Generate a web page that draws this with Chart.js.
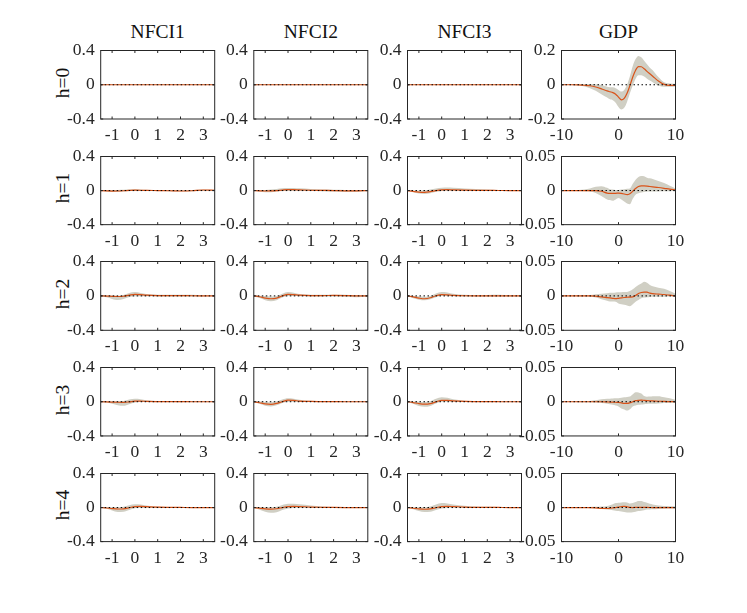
<!DOCTYPE html>
<html><head><meta charset="utf-8">
<script src="https://cdn.jsdelivr.net/npm/chart.js@4.4.1/dist/chart.umd.min.js"></script>
<style>
html,body{margin:0;padding:0;background:#fff;}
body{width:747px;height:613px;position:relative;overflow:hidden;font-family:'Liberation Serif','Times New Roman',serif;color:#111}
canvas{position:absolute}
.t{position:absolute;font-size:19.5px;white-space:nowrap;transform:translate(-50%,0);line-height:20px}
.r{position:absolute;font-size:19.5px;white-space:nowrap;line-height:20px;transform:translate(-50%,-50%) rotate(-90deg)}
</style></head><body>
<script>
// ---------------- data ----------------
const COLUMNS = ['NFCI1','NFCI2','NFCI3','GDP'];
const ROWS = ['h=0','h=1','h=2','h=3','h=4'];

const NFCI_X = [-1.5,-1.25,-1,-0.75,-0.5,-0.25,0,0.25,0.5,1,1.5,2,2.5,3,3.5];
const NFCI_XTICKS = [-1,0,1,2,3];
const NFCI_YTICKS = [-0.4,0,0.4];

const GDP_X = [-10,-9,-8,-7,-6,-5,-4,-3,-2,-1.5,-1,-0.5,0,0.5,1,1.5,2,2.5,3,3.5,4,4.5,5,5.5,6,7,8,9,10];
const GDP_XTICKS = [-10,0,10];
const GDP_YTICKS_H0 = [-0.2,0,0.2];
const GDP_YTICKS = [-0.05,0,0.05];

// h=0, NFCI (flat)
const H0_NFCI_MID = [0,0,0,0,0,0,0,0,0,0,0,0,0,0,0];
const H0_NFCI_LO  = [-0.002,-0.002,-0.002,-0.002,-0.002,-0.002,-0.002,-0.002,-0.002,-0.002,-0.002,-0.002,-0.002,-0.002,-0.002];
const H0_NFCI_HI  = [0.002,0.002,0.002,0.002,0.002,0.002,0.002,0.002,0.002,0.002,0.002,0.002,0.002,0.002,0.002];

// h=1
const H1_NFCI1_MID = [0,-0.003,-0.006,-0.005,-0.002,0.002,0.005,0.004,0.002,0,-0.002,-0.005,-0.002,0.007,0.004];
const H1_NFCI1_LO  = [-0.002,-0.01,-0.018,-0.018,-0.012,-0.006,-0.004,-0.005,-0.006,-0.006,-0.008,-0.012,-0.008,-0.002,-0.002];
const H1_NFCI1_HI  = [0.002,0.004,0.006,0.008,0.01,0.012,0.015,0.013,0.01,0.006,0.005,0.002,0.006,0.014,0.01];
const H1_NFCI2_MID = [0,-0.003,-0.005,-0.004,0,0.006,0.01,0.01,0.008,0.004,0.002,0,-0.003,-0.003,0];
const H1_NFCI2_LO  = [-0.002,-0.012,-0.02,-0.02,-0.012,-0.004,-0.002,-0.002,-0.004,-0.006,-0.008,-0.012,-0.018,-0.016,-0.006];
const H1_NFCI2_HI  = [0.002,0.004,0.008,0.012,0.018,0.026,0.03,0.03,0.026,0.018,0.012,0.01,0.008,0.008,0.004];
const H1_NFCI3_MID = [0,-0.01,-0.018,-0.02,-0.012,0,0.008,0.01,0.008,0.005,0.003,0.002,0.001,0,0];
const H1_NFCI3_LO  = [-0.002,-0.02,-0.035,-0.04,-0.032,-0.015,-0.004,-0.002,-0.003,-0.005,-0.006,-0.006,-0.005,-0.004,-0.002];
const H1_NFCI3_HI  = [0.002,0.002,0,0.004,0.012,0.025,0.033,0.035,0.032,0.025,0.018,0.012,0.008,0.005,0.002];

// h=2
const H2_NFCI1_MID = [0,-0.002,-0.005,-0.007,-0.004,0.008,0.017,0.014,0.008,0.004,0.004,0.004,0.002,0.001,0];
const H2_NFCI1_LO  = [-0.003,-0.015,-0.035,-0.048,-0.035,-0.012,-0.004,-0.004,-0.005,-0.006,-0.007,-0.008,-0.008,-0.006,-0.004];
const H2_NFCI1_HI  = [0.003,0.006,0.005,0,0.01,0.035,0.045,0.035,0.022,0.014,0.013,0.014,0.012,0.008,0.004];
const H2_NFCI2_MID = [0,-0.01,-0.025,-0.033,-0.025,0,0.018,0.014,0.008,0.004,0.004,0.005,0.004,0,0];
const H2_NFCI2_LO  = [-0.003,-0.025,-0.05,-0.063,-0.05,-0.02,-0.002,-0.002,-0.004,-0.006,-0.006,-0.006,-0.01,-0.016,-0.006];
const H2_NFCI2_HI  = [0.003,0.003,-0.002,-0.006,0,0.025,0.045,0.038,0.022,0.014,0.012,0.014,0.014,0.008,0.004];
const H2_NFCI3_MID = [0,-0.012,-0.025,-0.033,-0.022,0.002,0.015,0.013,0.007,0.002,0.001,0.001,0.001,0,0];
const H2_NFCI3_LO  = [-0.003,-0.028,-0.045,-0.052,-0.04,-0.015,-0.002,-0.003,-0.004,-0.006,-0.006,-0.007,-0.008,-0.008,-0.004];
const H2_NFCI3_HI  = [0.003,0.002,-0.004,-0.01,0,0.028,0.045,0.04,0.025,0.012,0.009,0.01,0.012,0.008,0.004];

// h=3
const H3_NFCI1_MID = [0,-0.002,-0.004,-0.006,-0.007,-0.002,0.006,0.007,0.004,0.002,0.001,0.001,0,0,0];
const H3_NFCI1_LO  = [-0.002,-0.01,-0.025,-0.042,-0.048,-0.03,-0.008,-0.004,-0.004,-0.004,-0.004,-0.005,-0.004,-0.003,-0.002];
const H3_NFCI1_HI  = [0.002,0.004,0.004,0.004,0.008,0.025,0.035,0.03,0.018,0.008,0.006,0.006,0.005,0.004,0.002];
const H3_NFCI2_MID = [0,-0.012,-0.025,-0.03,-0.02,0,0.018,0.015,0.008,0.003,0.002,0.001,0,0,0];
const H3_NFCI2_LO  = [-0.002,-0.025,-0.048,-0.055,-0.042,-0.015,0,0,-0.002,-0.004,-0.004,-0.004,-0.004,-0.003,-0.002];
const H3_NFCI2_HI  = [0.002,0.002,-0.002,-0.005,0.002,0.025,0.04,0.035,0.022,0.01,0.006,0.005,0.004,0.004,0.002];
const H3_NFCI3_MID = [0,-0.01,-0.022,-0.028,-0.022,-0.002,0.016,0.016,0.01,0.004,0.002,0.001,0,0,0];
const H3_NFCI3_LO  = [-0.002,-0.025,-0.05,-0.06,-0.05,-0.02,0,0,-0.002,-0.004,-0.004,-0.004,-0.004,-0.003,-0.002];
const H3_NFCI3_HI  = [0.002,0.003,0,-0.004,0.005,0.035,0.052,0.045,0.028,0.012,0.008,0.006,0.004,0.004,0.002];

// h=4
const H4_NFCI1_MID = [0,-0.005,-0.012,-0.017,-0.015,-0.002,0.012,0.014,0.01,0.004,0.002,0.001,0,0,0];
const H4_NFCI1_LO  = [-0.002,-0.015,-0.035,-0.052,-0.05,-0.03,-0.008,-0.002,-0.002,-0.004,-0.004,-0.004,-0.003,-0.003,-0.002];
const H4_NFCI1_HI  = [0.002,0.004,0.004,0.004,0.01,0.028,0.04,0.037,0.025,0.012,0.007,0.005,0.004,0.003,0.002];
const H4_NFCI2_MID = [0,-0.008,-0.015,-0.018,-0.014,0,0.012,0.014,0.012,0.006,0.003,0.001,0,0,0];
const H4_NFCI2_LO  = [-0.002,-0.025,-0.05,-0.062,-0.055,-0.03,-0.01,-0.004,-0.002,-0.003,-0.004,-0.004,-0.003,-0.003,-0.002];
const H4_NFCI2_HI  = [0.002,0.004,0.004,0.004,0.01,0.03,0.045,0.045,0.038,0.025,0.012,0.006,0.004,0.003,0.002];
const H4_NFCI3_MID = [0,-0.008,-0.016,-0.02,-0.016,-0.002,0.012,0.014,0.012,0.006,0.003,0.002,0.001,0,0];
const H4_NFCI3_LO  = [-0.002,-0.02,-0.04,-0.052,-0.05,-0.03,-0.01,-0.004,-0.003,-0.004,-0.004,-0.005,-0.005,-0.004,-0.002];
const H4_NFCI3_HI  = [0.002,0.004,0.004,0.004,0.012,0.035,0.052,0.048,0.035,0.02,0.012,0.008,0.006,0.004,0.002];

// GDP
const H0_GDP_MID = [0,0,0,-0.001,-0.003,-0.006,-0.013,-0.024,-0.036,-0.041,-0.046,-0.055,-0.072,-0.088,-0.08,-0.05,-0.005,0.045,0.085,0.106,0.105,0.093,0.078,0.064,0.05,0.022,0.002,-0.004,-0.004];
const H0_GDP_LO  = [-0.002,-0.002,-0.003,-0.005,-0.01,-0.02,-0.035,-0.055,-0.075,-0.085,-0.09,-0.105,-0.13,-0.145,-0.135,-0.1,-0.05,-0.005,0.035,0.055,0.055,0.048,0.035,0.025,0.015,-0.005,-0.012,-0.012,-0.01];
const H0_GDP_HI  = [0.002,0.002,0.002,0.002,0.003,0.004,0.003,-0.002,-0.012,-0.015,-0.015,-0.02,-0.03,-0.04,-0.03,0,0.05,0.11,0.15,0.168,0.16,0.14,0.12,0.1,0.085,0.045,0.015,0.008,0.006];

const H1_GDP_MID = [0,0,0,0,0,0,0,-0.001,-0.0037,-0.004,-0.004,-0.004,-0.0037,-0.004,-0.005,-0.006,-0.0045,-0.001,0.003,0.006,0.007,0.0068,0.0065,0.006,0.0055,0.0045,0.0033,0.002,0.001];
const H1_GDP_LO  = [-0.0005,-0.0005,-0.0005,-0.0008,-0.001,-0.0015,-0.0035,-0.008,-0.013,-0.014,-0.015,-0.013,-0.011,-0.013,-0.016,-0.019,-0.02,-0.012,-0.006,-0.004,-0.003,-0.002,-0.0015,-0.0014,-0.0014,-0.0012,-0.001,-0.001,-0.0008];
const H1_GDP_HI  = [0.0005,0.0005,0.0005,0.0008,0.0015,0.003,0.0055,0.0065,0.004,0.002,0.0015,0.001,0.001,0.0015,0.002,0.0025,0.003,0.01,0.016,0.02,0.0215,0.021,0.019,0.018,0.017,0.014,0.011,0.007,0.003];

const H2_GDP_MID = [0,0,0,0,0,0,-0.0003,-0.0015,-0.0025,-0.003,-0.0035,-0.004,-0.0035,-0.003,-0.0023,-0.002,-0.0017,-0.0014,0.0005,0.0035,0.005,0.0055,0.0055,0.004,0.0033,0.0026,0.002,0.001,0];
const H2_GDP_LO  = [-0.0005,-0.0005,-0.0006,-0.0007,-0.0008,-0.0012,-0.0025,-0.005,-0.0072,-0.0083,-0.0083,-0.0085,-0.011,-0.012,-0.013,-0.014,-0.015,-0.012,-0.0085,-0.006,-0.0035,-0.0025,-0.002,-0.0015,-0.0014,-0.0013,-0.0012,-0.001,-0.001];
const H2_GDP_HI  = [0.0005,0.0005,0.0006,0.0007,0.0008,0.0012,0.0025,0.0033,0.004,0.0045,0.0046,0.005,0.0052,0.0054,0.0055,0.0058,0.007,0.0095,0.013,0.016,0.018,0.0205,0.019,0.016,0.014,0.012,0.0105,0.007,0.003];

const H3_GDP_MID = [0,0,0,0,0,0,0,0,-0.0003,-0.0005,-0.0007,-0.0008,-0.001,-0.0017,-0.0023,-0.0023,-0.0015,0,0.0015,0.0021,0.0023,0.002,0.0017,0.0014,0.0011,0.0007,0.0004,0.0002,0];
const H3_GDP_LO  = [-0.0004,-0.0004,-0.0005,-0.0006,-0.0007,-0.0009,-0.0013,-0.002,-0.003,-0.0038,-0.0046,-0.0055,-0.0068,-0.01,-0.0115,-0.013,-0.011,-0.0068,-0.0055,-0.0045,-0.004,-0.0036,-0.0033,-0.003,-0.003,-0.0025,-0.002,-0.0016,-0.0014];
const H3_GDP_HI  = [0.0004,0.0004,0.0005,0.0006,0.0008,0.0011,0.002,0.0035,0.0042,0.0045,0.0048,0.005,0.0052,0.0058,0.0065,0.007,0.0075,0.011,0.014,0.0135,0.012,0.0085,0.0073,0.0075,0.008,0.008,0.0065,0.005,0.003];

const H4_GDP_MID = [0,0,0,0,0,0,-0.0004,-0.0012,-0.0014,-0.001,-0.0005,0,0.0005,0.0015,0.0018,0.0012,0.0002,0,0.0002,0.0004,0.0004,0.0003,0.0002,0.0001,0,0,0,0,0];
const H4_GDP_LO  = [-0.0004,-0.0004,-0.0005,-0.0006,-0.0008,-0.001,-0.0014,-0.002,-0.0028,-0.0033,-0.004,-0.0046,-0.005,-0.0058,-0.0066,-0.0073,-0.0072,-0.0069,-0.006,-0.005,-0.0046,-0.0038,-0.003,-0.0027,-0.0025,-0.002,-0.0017,-0.0015,-0.0014];
const H4_GDP_HI  = [0.0004,0.0004,0.0005,0.0006,0.0007,0.0008,0.001,0.0015,0.0024,0.0035,0.005,0.0065,0.007,0.0075,0.0078,0.0075,0.006,0.0065,0.008,0.0095,0.0095,0.008,0.007,0.0055,0.0045,0.003,0.0022,0.002,0.0018];

// ---------------- panel table built from the arrays ----------------
const PANELS = [
  [[H0_NFCI_MID,H0_NFCI_LO,H0_NFCI_HI],[H0_NFCI_MID,H0_NFCI_LO,H0_NFCI_HI],[H0_NFCI_MID,H0_NFCI_LO,H0_NFCI_HI],[H0_GDP_MID,H0_GDP_LO,H0_GDP_HI]],
  [[H1_NFCI1_MID,H1_NFCI1_LO,H1_NFCI1_HI],[H1_NFCI2_MID,H1_NFCI2_LO,H1_NFCI2_HI],[H1_NFCI3_MID,H1_NFCI3_LO,H1_NFCI3_HI],[H1_GDP_MID,H1_GDP_LO,H1_GDP_HI]],
  [[H2_NFCI1_MID,H2_NFCI1_LO,H2_NFCI1_HI],[H2_NFCI2_MID,H2_NFCI2_LO,H2_NFCI2_HI],[H2_NFCI3_MID,H2_NFCI3_LO,H2_NFCI3_HI],[H2_GDP_MID,H2_GDP_LO,H2_GDP_HI]],
  [[H3_NFCI1_MID,H3_NFCI1_LO,H3_NFCI1_HI],[H3_NFCI2_MID,H3_NFCI2_LO,H3_NFCI2_HI],[H3_NFCI3_MID,H3_NFCI3_LO,H3_NFCI3_HI],[H3_GDP_MID,H3_GDP_LO,H3_GDP_HI]],
  [[H4_NFCI1_MID,H4_NFCI1_LO,H4_NFCI1_HI],[H4_NFCI2_MID,H4_NFCI2_LO,H4_NFCI2_HI],[H4_NFCI3_MID,H4_NFCI3_LO,H4_NFCI3_HI],[H4_GDP_MID,H4_GDP_LO,H4_GDP_HI]]
];

// ---------------- layout / style ----------------
const COL_L = [100.7, 253.8, 407.5, 561.5];
const ROW_T = [46.5, 152.15, 257.8, 363.45, 469.1];
const BOX_W = 114, BOX_H = 72.5;
const RED = '#D95319', BAND = 'rgb(208,207,196)', AXC = '#262626';
const FONT = "'Liberation Serif','Times New Roman',serif";
const TICK_SIZE = 17.5;

const boxPlugin = {
  id: 'box',
  afterDatasetsDraw(chart) {
    const {ctx, chartArea: a, scales: {x, y}} = chart;
    ctx.save();
    ctx.strokeStyle = AXC; ctx.lineWidth = 1;
    ctx.strokeRect(a.left, a.top, a.right - a.left, a.bottom - a.top);
    const L = 2.5;
    ctx.beginPath();
    x.ticks.forEach(t => { const p = x.getPixelForValue(t.value);
      ctx.moveTo(p, a.bottom); ctx.lineTo(p, a.bottom - L);
      ctx.moveTo(p, a.top); ctx.lineTo(p, a.top + L); });
    y.ticks.forEach(t => { const p = y.getPixelForValue(t.value);
      ctx.moveTo(a.left, p); ctx.lineTo(a.left + L, p);
      ctx.moveTo(a.right, p); ctx.lineTo(a.right - L, p); });
    ctx.stroke();
    ctx.restore();
  }
};

function pts(xs, ys) { return xs.map((v, i) => ({x: v, y: ys[i]})); }

function addText(cls, txt, left, top) {
  const d = document.createElement('div');
  d.className = cls; d.textContent = txt;
  d.style.left = left + 'px'; d.style.top = top + 'px';
  document.body.appendChild(d);
}

COLUMNS.forEach((name, c) => addText('t', name, COL_L[c] + BOX_W / 2, 22));
ROWS.forEach((name, r) => addText('r', name, 63, ROW_T[r] + BOX_H / 2));

for (let r = 0; r < ROWS.length; r++) {
  for (let c = 0; c < COLUMNS.length; c++) {
    const isGDP = c === 3;
    const xs = isGDP ? GDP_X : NFCI_X;
    const xt = isGDP ? GDP_XTICKS : NFCI_XTICKS;
    const yt = isGDP ? (r === 0 ? GDP_YTICKS_H0 : GDP_YTICKS) : NFCI_YTICKS;
    const [mid, lo, hi] = PANELS[r][c];
    const xmin = xs[0], xmax = xs[xs.length - 1];

    const cl = Math.floor(COL_L[c]) - 56;
    const yAxisW = COL_L[c] - cl;
    const ct = Math.floor(ROW_T[r]) - 12;
    const padTop = ROW_T[r] - ct;
    const W = Math.ceil(yAxisW + BOX_W) + 16;
    const H = Math.ceil(padTop + BOX_H) + 30;
    const padRight = W - yAxisW - BOX_W;
    const xAxisH = H - padTop - BOX_H;

    const cv = document.createElement('canvas');
    cv.width = W; cv.height = H;
    cv.style.left = cl + 'px'; cv.style.top = ct + 'px';
    cv.style.width = W + 'px'; cv.style.height = H + 'px';
    document.body.appendChild(cv);

    new Chart(cv, {
      type: 'line',
      data: {
        datasets: [
          {data: pts(xs, lo), borderWidth: 0, borderColor: 'rgba(0,0,0,0)', pointRadius: 0, fill: false, order: 3, cubicInterpolationMode: 'monotone'},
          {data: pts(xs, hi), borderWidth: 0, borderColor: 'rgba(0,0,0,0)', pointRadius: 0, fill: '-1', backgroundColor: BAND, order: 2, cubicInterpolationMode: 'monotone'},
          {data: pts(xs, mid), borderColor: RED, borderWidth: 1.2, pointRadius: 0, fill: false, order: 1, cubicInterpolationMode: 'monotone'},
          {data: [{x: xmin, y: 0}, {x: xmax, y: 0}], borderColor: '#000', borderWidth: 1, borderDash: [1.5, 2.5], pointRadius: 0, fill: false, order: 0}
        ]
      },
      options: {
        responsive: false, animation: false, events: [],
        devicePixelRatio: 1,
        layout: {autoPadding: false, padding: {left: 0, top: padTop, right: padRight, bottom: 0}},
        plugins: {legend: {display: false}, tooltip: {enabled: false}, title: {display: false}},
        scales: {
          x: {
            type: 'linear', min: xmin, max: xmax,
            afterBuildTicks: s => { s.ticks = xt.map(v => ({value: v})); },
            afterFit: s => { s.height = xAxisH; },
            grid: {display: false, drawTicks: false}, border: {display: false},
            ticks: {padding: 6, autoSkip: false, maxRotation: 0, color: AXC, font: {family: FONT, size: TICK_SIZE}, callback: v => String(v)}
          },
          y: {
            type: 'linear', min: yt[0], max: yt[yt.length - 1],
            afterBuildTicks: s => { s.ticks = yt.map(v => ({value: v})); },
            afterFit: s => { s.width = yAxisW; },
            grid: {display: false, drawTicks: false}, border: {display: false},
            ticks: {padding: 6, autoSkip: false, color: AXC, font: {family: FONT, size: TICK_SIZE}, callback: v => String(v)}
          }
        }
      },
      plugins: [boxPlugin]
    });
  }
}
</script>
</body></html>
